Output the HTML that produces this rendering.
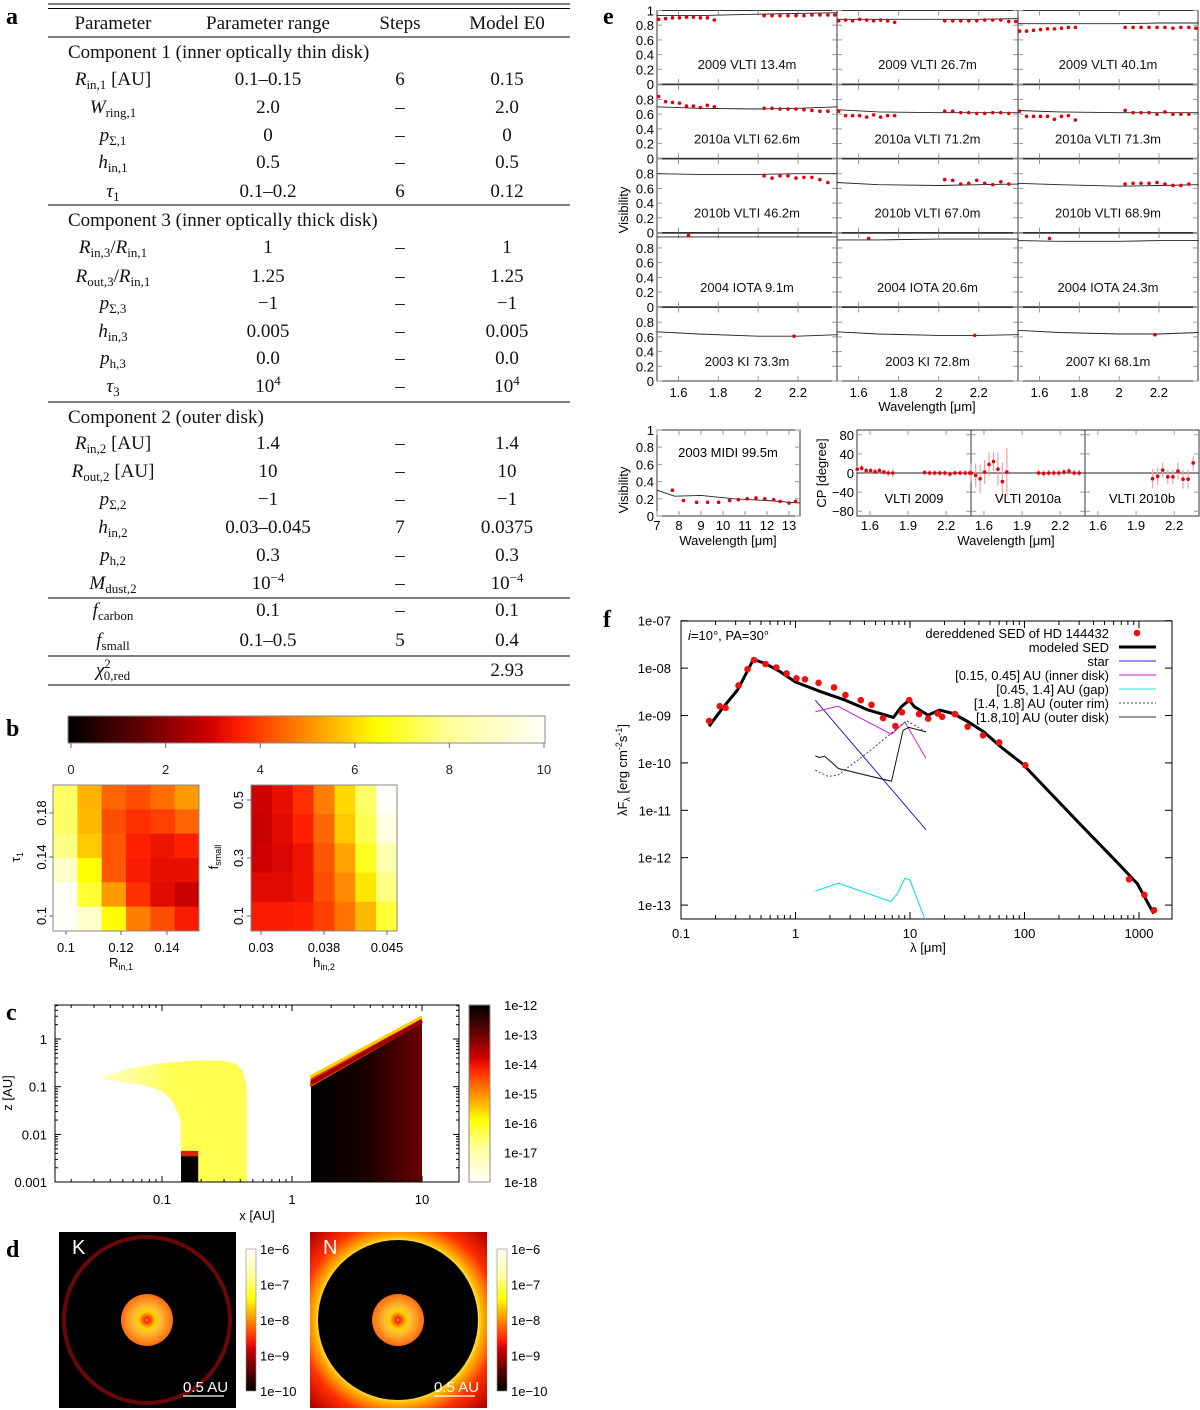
<!DOCTYPE html>
<html><head><meta charset="utf-8"><title>HD 144432 model figure</title>
<style>
html,body{margin:0;padding:0;background:#fff;}
svg{display:block;font-family:"Liberation Sans",sans-serif;}
.ser{font-family:"Liberation Serif",serif;}
</style></head>
<body>
<svg id="fig" width="1200" height="1410" viewBox="0 0 1200 1410" xmlns="http://www.w3.org/2000/svg">
<defs>
<linearGradient id="hotH" x1="0" y1="0" x2="1" y2="0">
<stop offset="0" stop-color="#000"/><stop offset="0.15" stop-color="#600000"/><stop offset="0.3" stop-color="#d00000"/><stop offset="0.36" stop-color="#ff2000"/><stop offset="0.5" stop-color="#ff8c00"/><stop offset="0.65" stop-color="#ffff00"/><stop offset="0.8" stop-color="#ffff99"/><stop offset="1" stop-color="#fffff8"/>
</linearGradient>
<linearGradient id="hotV" x1="0" y1="0" x2="0" y2="1">
<stop offset="0" stop-color="#000"/><stop offset="0.15" stop-color="#600000"/><stop offset="0.3" stop-color="#d00000"/><stop offset="0.36" stop-color="#ff2000"/><stop offset="0.5" stop-color="#ff8c00"/><stop offset="0.65" stop-color="#ffff00"/><stop offset="0.8" stop-color="#ffff99"/><stop offset="1" stop-color="#fffff8"/>
</linearGradient>
<linearGradient id="hotVr" x1="0" y1="1" x2="0" y2="0">
<stop offset="0" stop-color="#000"/><stop offset="0.15" stop-color="#600000"/><stop offset="0.3" stop-color="#d00000"/><stop offset="0.36" stop-color="#ff2000"/><stop offset="0.5" stop-color="#ff8c00"/><stop offset="0.65" stop-color="#ffff00"/><stop offset="0.8" stop-color="#ffff99"/><stop offset="1" stop-color="#fffff8"/>
</linearGradient>
<linearGradient id="innerFill" gradientUnits="userSpaceOnUse" x1="60" y1="0" x2="175" y2="0">
<stop offset="0" stop-color="#ffffff"/><stop offset="0.5" stop-color="#ffffb0"/><stop offset="1" stop-color="#ffff50"/>
</linearGradient>
<linearGradient id="outerFill" x1="0" y1="0" x2="1" y2="0">
<stop offset="0" stop-color="#000"/><stop offset="0.5" stop-color="#1a0000"/><stop offset="1" stop-color="#6a0000"/>
</linearGradient>
<radialGradient id="diskG">
<stop offset="0" stop-color="#ffffff"/><stop offset="0.06" stop-color="#ff2000"/><stop offset="0.16" stop-color="#ff5a00"/><stop offset="0.32" stop-color="#ffd000"/><stop offset="0.5" stop-color="#ffc030"/><stop offset="1" stop-color="#ff6a10"/>
</radialGradient>
<radialGradient id="nBg" cx="0.5" cy="0.5" r="0.7">
<stop offset="0.62" stop-color="#ffff60"/><stop offset="0.68" stop-color="#ffb000"/><stop offset="0.8" stop-color="#ff3000"/><stop offset="1" stop-color="#b00000"/>
</radialGradient>
</defs>
<rect x="0" y="0" width="1200" height="1410" fill="#fff"/>

<!-- panel labels -->
<g class="ser" font-weight="bold" font-size="24">
<text x="6" y="24">a</text>
<text x="6" y="736">b</text>
<text x="6" y="1020">c</text>
<text x="6" y="1257">d</text>
<text x="603" y="24">e</text>
<text x="603" y="627">f</text>
</g>

<!-- panel a table -->
<g id="table" class="ser" font-size="19" fill="#111">
<g stroke="#000" stroke-width="1">
<line x1="48" y1="4" x2="570" y2="4"/><line x1="48" y1="8.5" x2="570" y2="8.5"/>
<line x1="48" y1="37" x2="570" y2="37"/><line x1="48" y1="205" x2="570" y2="205"/>
<line x1="48" y1="402" x2="570" y2="402"/><line x1="48" y1="598" x2="570" y2="598"/>
<line x1="48" y1="656" x2="570" y2="656"/><line x1="48" y1="685" x2="570" y2="685"/>
</g>
<g text-anchor="middle">
<text x="113" y="29">Parameter</text><text x="268" y="29">Parameter range</text><text x="400" y="29">Steps</text><text x="507" y="29">Model E0</text>
</g>
<text x="68" y="58">Component 1 (inner optically thin disk)</text>
<text x="68" y="226">Component 3 (inner optically thick disk)</text>
<text x="68" y="423">Component 2 (outer disk)</text>
<g id="trows" text-anchor="middle"></g>
</g>

<g id="panelB"></g>
<g id="panelC"></g>
<g id="panelD"></g>
<g id="panelE"></g>
<g id="panelF"></g>
</svg>

<script>
// ---------- panel e data ----------
const visLabels = ["2009 VLTI 13.4m","2009 VLTI 26.7m","2009 VLTI 40.1m",
"2010a VLTI 62.6m","2010a VLTI 71.2m","2010a VLTI 71.3m",
"2010b VLTI 46.2m","2010b VLTI 67.0m","2010b VLTI 68.9m",
"2004 IOTA 9.1m","2004 IOTA 20.6m","2004 IOTA 24.3m",
"2003 KI 73.3m","2003 KI 72.8m","2007 KI 68.1m"];
const visModelWl = [1.49,1.7,2.0,2.2,2.4];
const visModel = [
[0.93,0.93,0.95,0.96,0.97],[0.88,0.88,0.88,0.88,0.89],[0.82,0.82,0.82,0.83,0.83],
[0.70,0.68,0.67,0.68,0.70],[0.66,0.63,0.62,0.62,0.62],[0.65,0.63,0.62,0.62,0.62],
[0.80,0.79,0.79,0.80,0.80],[0.68,0.65,0.64,0.65,0.66],[0.67,0.65,0.63,0.64,0.65],
[0.95,0.95,0.95,0.95,0.95],[0.91,0.91,0.92,0.92,0.92],[0.90,0.89,0.89,0.90,0.90],
[0.67,0.64,0.61,0.61,0.63],[0.67,0.64,0.62,0.62,0.63],[0.69,0.66,0.64,0.64,0.66]];
const wlLeft = [1.50,1.535,1.57,1.605,1.64,1.675,1.71,1.745,1.78];
const wlRight = [2.03,2.07,2.11,2.15,2.19,2.23,2.27,2.31,2.35,2.385];
const visLeft = [
[0.88,0.89,0.90,0.90,0.91,0.91,0.90,0.90,0.87],[0.86,0.87,0.86,0.88,0.87,0.86,0.87,0.86,0.84],[0.72,0.72,0.73,0.74,0.75,0.75,0.76,0.77,0.77],
[0.84,0.77,0.76,0.75,0.71,0.71,0.69,0.72,0.70],[0.64,0.58,0.58,0.58,0.56,0.59,0.56,0.58,0.58],[0.64,0.57,0.57,0.57,0.57,0.53,0.57,0.58,0.52],
[],[],[],[],[],[],[],[],[]];
const visRight = [
[0.93,0.93,0.93,0.93,0.93,0.93,0.94,0.94,0.94,0.94],[0.86,0.86,0.86,0.86,0.86,0.87,0.87,0.87,0.85,0.85],[0.77,0.77,0.77,0.77,0.77,0.77,0.76,0.77,0.77,0.76],
[0.68,0.68,0.67,0.67,0.67,0.66,0.65,0.64,0.64],[0.64,0.64,0.62,0.62,0.61,0.61,0.62,0.62,0.61],[0.65,0.62,0.62,0.62,0.60,0.63,0.60,0.60,0.60],
[0.77,0.74,0.77,0.77,0.74,0.75,0.75,0.72,0.68],[0.72,0.71,0.66,0.67,0.71,0.67,0.65,0.69,0.66],[0.66,0.67,0.67,0.67,0.68,0.66,0.64,0.64,0.66],
[],[],[],[],[],[]];
const visSingleWl = [null,null,null,null,null,null,null,null,null,1.65,1.65,1.65,2.18,2.18,2.18];
const visSingleV = [null,null,null,null,null,null,null,null,null,0.97,0.93,0.93,0.61,0.62,0.63];
const visYTicks = [0,0.2,0.4,0.6,0.8];
const visXTicks = [1.6,1.8,2.0,2.2];
const visXTickLabels = ["1.6","1.8","2","2.2"];
// MIDI
const midiModelWl = [7,7.8,9,10.5,12,13.5];
const midiModel = [0.30,0.23,0.24,0.20,0.18,0.15];
const midiWl = [7.7,8.2,8.8,9.3,9.8,10.3,10.7,11.1,11.5,11.9,12.3,12.6,13.0,13.3];
const midiV = [0.30,0.18,0.16,0.16,0.16,0.18,0.19,0.20,0.21,0.20,0.19,0.17,0.15,0.17];
const midiXTicks = [7,8,9,10,11,12,13];
// closure phases
const cpLabels = ["VLTI 2009","VLTI 2010a","VLTI 2010b"];
const cpLeft = [[8,10,5,5,3,5,2,0,0],[0,-5,-12,2,18,24,8,-18,2],[]];
const cpLeftErr = [[6,7,6,6,6,6,6,7,10],[20,25,30,25,25,20,35,40,50],[]];
const cpRight = [[1,0,0,0,0,-2,0,0,0,0],[0,-1,0,0,0,2,4,0,0],[-12,-7,6,-8,-8,4,-13,-13,21]];
const cpRightErr = [[6,6,6,6,6,6,6,6,6,6],[7,7,7,7,7,7,7,7,7],[20,18,15,15,15,18,20,20,15]];
const cpYTicks = [-80,-40,0,40,80];
const cpXTicks = [1.6,1.9,2.2];

// ---------- panel f data ----------
const sedWl = [0.176,0.218,0.245,0.318,0.381,0.434,0.547,0.679,0.837,1.02,1.21,1.59,2.17,2.73,3.72,4.61,5.82,7.45,8.5,9.85,12.0,14.4,17.5,19.1,24.7,31.9,43.4,60.1,101.6,819,1114,1352];
const sedFlux = [7.7e-10,1.57e-9,1.45e-9,4.3e-9,9.5e-9,1.48e-8,1.22e-8,1.03e-8,7.7e-9,6.1e-9,5.8e-9,4.9e-9,3.9e-9,2.7e-9,2.1e-9,1.68e-9,8.8e-10,6.0e-10,1.17e-9,2.1e-9,1.07e-9,8.6e-10,1.1e-9,9.4e-10,1.07e-9,5.8e-10,3.8e-10,2.7e-10,8.9e-11,3.5e-13,1.65e-13,7.8e-14];
const modelWl = [0.176,0.230,0.314,0.428,0.539,0.735,1.0,1.59,2.73,4.34,7.18,8.38,9.85,10.96,14.4,18.1,23.8,32.4,44.1,64.8,95.5,140.6,304,659,970,1343];
const modelFlux = [5.96e-10,1.41e-9,3.54e-9,1.52e-8,1.26e-8,8.4e-9,5.1e-9,3.3e-9,2.1e-9,1.3e-9,9.1e-10,1.52e-9,2.1e-9,1.52e-9,1.02e-9,1.3e-9,1.1e-9,7.3e-10,4.5e-10,2.0e-10,9.7e-11,3.66e-11,5.2e-12,7.5e-13,2.8e-13,6.6e-14];
const starWl = [1.49,13.8];
const starFlux = [2.1e-9,3.9e-12];
const innerWl = [1.49,2.34,6.9,9.03,13.8];
const innerFlux = [1.19e-9,1.57e-9,4.0e-10,7.3e-10,1.24e-10];
const gapWl = [1.49,2.37,6.8,7.74,9.03,9.98,13.8];
const gapFlux = [1.98e-13,2.9e-13,1.19e-13,1.74e-13,3.7e-13,3.4e-13,4.4e-14];
const rimWl = [1.49,1.93,2.34,4.34,8.7,9.4,13.8];
const rimFlux = [7e-11,5.2e-11,5.5e-11,1.7e-10,6.8e-10,7.7e-10,4.5e-10];
const outerWl = [1.49,1.61,1.79,2.0,2.37,6.9,8.7,9.77,13.8];
const outerFlux = [1.41e-10,1.3e-10,1.38e-10,1.1e-10,7.6e-11,4.1e-11,4.9e-10,5.6e-10,4.5e-10];
const sedYTicks = [-7,-8,-9,-10,-11,-12,-13];
const sedYTickLabels = ["1e-07","1e-08","1e-09","1e-10","1e-11","1e-12","1e-13"];
const sedXTicks = [0.1,1,10,100,1000];
const sedXTickLabels = ["0.1","1","10","100","1000"];

// ---------- panel b data ----------
const hm1Values = [
[7.5,5.5,4.5,4.2,4.6,5.2],
[7.5,5.6,4.2,3.8,4.0,4.5],
[7.8,5.8,4.3,3.6,3.4,3.6],
[9.0,6.5,4.3,3.5,3.3,3.3],
[10,7.0,5.2,3.8,3.2,2.9],
[10,9.0,6.5,4.8,4.2,3.5]];
const hm2Values = [
[3.0,3.3,3.8,4.8,6.0,7.5,10],
[2.9,3.2,3.6,4.5,5.8,7.3,9.5],
[3.0,3.1,3.4,4.3,5.3,6.8,8.5],
[3.2,3.2,3.4,4.2,5.0,6.2,7.8],
[3.5,3.5,3.6,4.0,4.7,5.6,7.0]];
const cbTicks = [0,2,4,6,8,10];

// ---------- table rows ----------
const NS='http://www.w3.org/2000/svg';
function E(tag,attrs,parent){const e=document.createElementNS(NS,tag);for(const k in attrs)e.setAttribute(k,attrs[k]);if(parent)parent.appendChild(e);return e;}
function T(parent,x,y,str,attrs){const t=E('text',Object.assign({x:x,y:y},attrs||{}),parent);t.textContent=str;return t;}

const trows=document.getElementById('trows');
const tableRows = [
[85,'<tspan font-style="italic">R</tspan><tspan font-size="13" dy="4">in,1</tspan><tspan dy="-4"> [AU]</tspan>','0.1–0.15','6','0.15'],
[113,'<tspan font-style="italic">W</tspan><tspan font-size="13" dy="4">ring,1</tspan>','2.0','–','2.0'],
[141,'<tspan font-style="italic">p</tspan><tspan font-size="13" dy="4">Σ,1</tspan>','0','–','0'],
[168,'<tspan font-style="italic">h</tspan><tspan font-size="13" dy="4">in,1</tspan>','0.5','–','0.5'],
[197,'<tspan font-style="italic">τ</tspan><tspan font-size="13" dy="4">1</tspan>','0.1–0.2','6','0.12'],
[253,'<tspan font-style="italic">R</tspan><tspan font-size="13" dy="4">in,3</tspan><tspan dy="-4">/</tspan><tspan font-style="italic">R</tspan><tspan font-size="13" dy="4">in,1</tspan>','1','–','1'],
[282,'<tspan font-style="italic">R</tspan><tspan font-size="13" dy="4">out,3</tspan><tspan dy="-4">/</tspan><tspan font-style="italic">R</tspan><tspan font-size="13" dy="4">in,1</tspan>','1.25','–','1.25'],
[309,'<tspan font-style="italic">p</tspan><tspan font-size="13" dy="4">Σ,3</tspan>','−1','–','−1'],
[337,'<tspan font-style="italic">h</tspan><tspan font-size="13" dy="4">in,3</tspan>','0.005','–','0.005'],
[364,'<tspan font-style="italic">p</tspan><tspan font-size="13" dy="4">h,3</tspan>','0.0','–','0.0'],
[392,'<tspan font-style="italic">τ</tspan><tspan font-size="13" dy="4">3</tspan>','10<tspan font-size="13" dy="-7">4</tspan>','–','10<tspan font-size="13" dy="-7">4</tspan>'],
[449,'<tspan font-style="italic">R</tspan><tspan font-size="13" dy="4">in,2</tspan><tspan dy="-4"> [AU]</tspan>','1.4','–','1.4'],
[477,'<tspan font-style="italic">R</tspan><tspan font-size="13" dy="4">out,2</tspan><tspan dy="-4"> [AU]</tspan>','10','–','10'],
[505,'<tspan font-style="italic">p</tspan><tspan font-size="13" dy="4">Σ,2</tspan>','−1','–','−1'],
[533,'<tspan font-style="italic">h</tspan><tspan font-size="13" dy="4">in,2</tspan>','0.03–0.045','7','0.0375'],
[561,'<tspan font-style="italic">p</tspan><tspan font-size="13" dy="4">h,2</tspan>','0.3','–','0.3'],
[589,'<tspan font-style="italic">M</tspan><tspan font-size="13" dy="4">dust,2</tspan>','10<tspan font-size="13" dy="-7">−4</tspan>','–','10<tspan font-size="13" dy="-7">−4</tspan>'],
[616,'<tspan font-style="italic">f</tspan><tspan font-size="13" dy="4">carbon</tspan>','0.1','–','0.1'],
[646,'<tspan font-style="italic">f</tspan><tspan font-size="13" dy="4">small</tspan>','0.1–0.5','5','0.4'],
[676,'<tspan font-style="italic">χ</tspan><tspan font-size="13" dy="-8">2</tspan><tspan font-size="13" dx="-7" dy="12">0,red</tspan>','','','2.93']];
const colX=[113,268,400,507];
tableRows.forEach((r,i)=>{
  const g=E('g',{},trows);
  
  
  for(let c=0;c<4;c++){const t=E('text',{x:colX[c],y:r[0]},g);t.innerHTML=r[c+1];}
});

// ---------- panel b ----------
const cmStops=[[0,[0,0,0]],[0.15,[96,0,0]],[0.3,[208,0,0]],[0.36,[255,32,0]],[0.5,[255,140,0]],[0.65,[255,255,0]],[0.8,[255,255,153]],[1,[255,255,248]]];
function hot(v){const t=Math.max(0,Math.min(1,v/10));for(let i=1;i<cmStops.length;i++){if(t<=cmStops[i][0]){const a=cmStops[i-1],b=cmStops[i];const f=(t-a[0])/(b[0]-a[0]);const c=a[1].map((x,k)=>Math.round(x+(b[1][k]-x)*f));return 'rgb('+c.join(',')+')';}}return 'rgb(255,255,248)';}
const pB=document.getElementById('panelB');
const cbx0=68,cbx1=545,cby0=716,cby1=743;
const cb=E('rect',{x:cbx0,y:cby0,width:cbx1-cbx0,height:cby1-cby0,fill:'url(#hotH)',stroke:'#888','stroke-width':1},pB);


const cbScale=v=>71+(544-71)*v/10;
cbTicks.forEach(v=>{
  E('line',{x1:cbScale(v),y1:cby1,x2:cbScale(v),y2:cby1+5,stroke:'#666'},pB);
  const t=T(pB,cbScale(v),774,String(v),{'text-anchor':'middle','font-size':13,fill:'#222'});
  
  
});
function heatmap(vals,x0,x1,y0,y1,name){
  const rows=vals.length,cols=vals[0].length,cw=(x1-x0)/cols,ch=(y1-y0)/rows;
  const g=E('g',{},pB);
  
  
  vals.forEach((row,r)=>row.forEach((v,c)=>{
    const cell=E('rect',{x:x0+c*cw,y:y0+r*ch,width:cw+0.5,height:ch+0.5,fill:hot(v)},g);
    
    
  }));
  E('rect',{x:x0,y:y0,width:x1-x0,height:y1-y0,fill:'none',stroke:'#888'},g);
}
heatmap(hm1Values,53,199,785,931,'heatmap-rin-tau');
heatmap(hm2Values,251,397,785,931,'heatmap-hin-fsmall');
[[66,'0.1'],[121,'0.12'],[167,'0.14']].forEach(a=>{E('line',{x1:a[0],y1:931,x2:a[0],y2:935,stroke:'#666'},pB);T(pB,a[0],952,a[1],{'text-anchor':'middle','font-size':13});});
[[261,'0.03'],[324,'0.038'],[387,'0.045']].forEach(a=>{E('line',{x1:a[0],y1:931,x2:a[0],y2:935,stroke:'#666'},pB);T(pB,a[0],952,a[1],{'text-anchor':'middle','font-size':13});});
[[813,'0.18'],[857,'0.14'],[916,'0.1']].forEach(a=>{E('line',{x1:49,y1:a[0],x2:53,y2:a[0],stroke:'#666'},pB);T(pB,41,a[0],a[1],{'text-anchor':'middle','font-size':13,transform:'rotate(-90 41 '+a[0]+')',dy:'5'});});
[[800,'0.5'],[858,'0.3'],[916,'0.1']].forEach(a=>{E('line',{x1:247,y1:a[0],x2:251,y2:a[0],stroke:'#666'},pB);T(pB,238,a[0],a[1],{'text-anchor':'middle','font-size':13,transform:'rotate(-90 238 '+a[0]+')',dy:'5'});});
const bx1=E('text',{x:121,y:967,'text-anchor':'middle','font-size':13},pB);bx1.innerHTML='R<tspan font-size="9" dy="3">in,1</tspan>';


const bx2=E('text',{x:324,y:967,'text-anchor':'middle','font-size':13},pB);bx2.innerHTML='h<tspan font-size="9" dy="3">in,2</tspan>';


const by1=E('text',{x:20,y:857,'text-anchor':'middle','font-size':13,transform:'rotate(-90 20 857)'},pB);by1.innerHTML='τ<tspan font-size="9" dy="3">1</tspan>';


const by2=E('text',{x:218,y:857,'text-anchor':'middle','font-size':13,transform:'rotate(-90 218 857)'},pB);by2.innerHTML='f<tspan font-size="9" dy="3">small</tspan>';



// ---------- panel c ----------
const pC=document.getElementById('panelC');
const cX=x=>292+130*Math.log10(x), cZ=z=>1039-47.7*Math.log10(z);
function poly(pts){return pts.map(p=>cX(p[0]).toFixed(1)+','+cZ(p[1]).toFixed(1)).join(' ');}
const innerPts=[[0.032,0.15],[0.06,0.25],[0.1,0.31],[0.2,0.36],[0.3,0.35],[0.37,0.3],[0.42,0.21],[0.44,0.13],[0.45,0.08],[0.45,0.001],[0.14,0.001],[0.14,0.02],[0.12,0.05],[0.1,0.08],[0.07,0.11],[0.045,0.13]];
const ip=E('polygon',{points:poly(innerPts),fill:'url(#innerFill)'},pC);


const blk=E('polygon',{points:poly([[0.14,0.001],[0.14,0.0035],[0.19,0.0035],[0.19,0.001]]),fill:'#000'},pC);


E('polygon',{points:poly([[0.14,0.0035],[0.14,0.0045],[0.19,0.0045],[0.19,0.0035]]),fill:'#e02000'},pC);
const od=E('polygon',{points:poly([[1.4,0.001],[1.4,0.1],[10,2.2],[10,0.001]]),fill:'url(#outerFill)'},pC);


E('polygon',{points:poly([[1.37,0.1],[1.4,0.16],[10,3.0],[10,2.2],[1.4,0.1]]),fill:'#e83000'},pC);
E('polyline',{points:poly([[1.38,0.16],[10,2.9]]),stroke:'#ffd000','stroke-width':3,fill:'none'},pC);
E('polyline',{points:poly([[1.4,0.12],[10,2.4]]),stroke:'#a00000','stroke-width':4,fill:'none'},pC);
const cFrame=E('rect',{x:55,y:1005,width:404,height:177,fill:'none',stroke:'#000'},pC);


for(let d=-2;d<=1;d++){for(let m=1;m<10;m++){const v=Math.pow(10,d)*m;const x=cX(v);if(x<55||x>459)continue;const L=m==1?6:3;E('line',{x1:x,y1:1182,x2:x,y2:1182-L,stroke:'#000'},pC);E('line',{x1:x,y1:1005,x2:x,y2:1005+L,stroke:'#000'},pC);}}
for(let d=-3;d<=0;d++){for(let m=1;m<10;m++){const v=Math.pow(10,d)*m;const y=cZ(v);if(y<1005||y>1182)continue;const L=m==1?6:3;E('line',{x1:55,y1:y,x2:55+L,y2:y,stroke:'#000'},pC);E('line',{x1:459,y1:y,x2:459-L,y2:y,stroke:'#000'},pC);}}
[[0.1,'0.1'],[1,'1'],[10,'10']].forEach(a=>T(pC,cX(a[0]),1204,a[1],{'text-anchor':'middle','font-size':13}));
[[1,'1'],[0.1,'0.1'],[0.01,'0.01'],[0.001,'0.001']].forEach(a=>T(pC,47,cZ(a[1]=='x'?0:a[0])+5,a[1],{'text-anchor':'end','font-size':13}));
const cxl=T(pC,257,1220,'x [AU]',{'text-anchor':'middle','font-size':13});


const czl=T(pC,12,1093,'z [AU]',{'text-anchor':'middle','font-size':13,transform:'rotate(-90 12 1093)'});


const ccb=E('rect',{x:469,y:1005,width:21,height:177,fill:'url(#hotV)',stroke:'#888'},pC);


['1e-12','1e-13','1e-14','1e-15','1e-16','1e-17','1e-18'].forEach((s,i)=>T(pC,504,1005+i*29.5+5,s,{'font-size':13}));

// ---------- panel d ----------
const pD=document.getElementById('panelD');
function imgPanel(x0,label,isN){
  const g=E('g',{},pD);
  
  
  const cx=x0+88,cy=1320;
  E('rect',{x:x0,y:1232,width:177,height:176,fill:isN?'url(#nBg)':'#000'},g);
  if(isN){E('circle',{cx:cx,cy:cy,r:80,fill:'#000'},g);}
  else{E('circle',{cx:cx,cy:cy,r:83,fill:'none',stroke:'#6a0808','stroke-width':4},g);}
  E('circle',{cx:cx,cy:cy,r:26,fill:'url(#diskG)'},g);
  T(g,x0+13,1254,label,{fill:'#fff','font-size':20});
  T(g,x0+124,1392,'0.5 AU',{fill:'#fff','font-size':15});
  E('line',{x1:x0+124,y1:1396,x2:x0+165,y2:1396,stroke:'#fff','stroke-width':1.2},g);
  const cbx=x0+187;
  const bar=E('rect',{x:cbx,y:1249,width:10,height:142,fill:'url(#hotVr)',stroke:'#888','stroke-width':0.6},pD);
  
  
  ['1e−6','1e−7','1e−8','1e−9','1e−10'].forEach((s,i)=>T(pD,cbx+14,1249+i*35.5+5,s,{'font-size':13}));
}
imgPanel(59,'K',false);
imgPanel(310,'N',true);

// ---------- panel e ----------
const pE=document.getElementById('panelE');
const colLeft=[657,837,1018], colW=[180,181,180];
const rowZero=i=>84+i*74.25, rowScale=73.5;
for(let p=0;p<15;p++){
  const r=Math.floor(p/3),c=p%3;
  const x0=colLeft[c],w=colW[c],y0=rowZero(r);
  const xs=wl=>x0+(wl-1.492)/(2.396-1.492)*w, ys=v=>y0-v*rowScale;
  const g=E('g',{},pE);
  
  
  E('rect',{x:x0,y:y0-rowScale,width:w,height:rowScale,fill:'none',stroke:'#333'},g);
  visYTicks.concat([1]).forEach(v=>{E('line',{x1:x0,y1:ys(v),x2:x0+5,y2:ys(v),stroke:'#999'},g);E('line',{x1:x0+w,y1:ys(v),x2:x0+w-5,y2:ys(v),stroke:'#999'},g);});
  visXTicks.forEach(v=>{E('line',{x1:xs(v),y1:y0,x2:xs(v),y2:y0-5,stroke:'#999'},g);E('line',{x1:xs(v),y1:y0-rowScale,x2:xs(v),y2:y0-rowScale+5,stroke:'#999'},g);});
  const ml=E('polyline',{points:visModelWl.map((wl,k)=>xs(wl).toFixed(1)+','+ys(visModel[p][k]).toFixed(1)).join(' '),fill:'none',stroke:'#222','stroke-width':0.9},g);
  
  
  const pts=[];
  visLeft[p].forEach((v,k)=>pts.push([wlLeft[k],v]));
  visRight[p].forEach((v,k)=>pts.push([wlRight[k],v]));
  if(visSingleWl[p]!==null)pts.push([visSingleWl[p],visSingleV[p]]);
  pts.forEach(pt=>{
    E('line',{x1:xs(pt[0]),y1:ys(pt[1]+0.02),x2:xs(pt[0]),y2:ys(pt[1]-0.02),stroke:'#f06060','stroke-width':1},g);
    const d=E('circle',{cx:xs(pt[0]),cy:ys(pt[1]),r:1.8,fill:'#e00010'},g);
    
    
  });
  const lt=T(g,x0+w/2,y0-rowScale*0.27+5,visLabels[p],{'text-anchor':'middle','font-size':13,fill:'#111'});
  
  
  if(c==0){
    const labs=r==0?visYTicks.concat([1]):visYTicks;
    labs.forEach(v=>T(pE,x0-3,ys(v)+5,String(v),{'text-anchor':'end','font-size':13}));
  }
  if(r==4){visXTicks.forEach((v,k)=>T(pE,xs(v),397,visXTickLabels[k],{'text-anchor':'middle','font-size':13}));}
}
const evl=T(pE,628,210,'Visibility',{'text-anchor':'middle','font-size':13,transform:'rotate(-90 628 210)'});


const ewl=T(pE,927,411,'Wavelength [μm]',{'text-anchor':'middle','font-size':13});


// MIDI
{
  const x0=657,x1=800,y0=516,y1=430;
  const xs=wl=>657+(wl-7)*22, ys=v=>y0-(y0-y1)*v;
  const g=E('g',{},pE);
  
  
  E('rect',{x:x0,y:y1,width:x1-x0,height:y0-y1,fill:'none',stroke:'#333'},g);
  [0,0.2,0.4,0.6,0.8,1].forEach(v=>{E('line',{x1:x0,y1:ys(v),x2:x0+5,y2:ys(v),stroke:'#999'},g);E('line',{x1:x1,y1:ys(v),x2:x1-5,y2:ys(v),stroke:'#999'},g);T(g,x0-3,ys(v)+5,String(v),{'text-anchor':'end','font-size':13});});
  midiXTicks.forEach(v=>{E('line',{x1:xs(v),y1:y0,x2:xs(v),y2:y0-5,stroke:'#999'},g);E('line',{x1:xs(v),y1:y1,x2:xs(v),y2:y1+5,stroke:'#999'},g);T(g,xs(v),530,String(v),{'text-anchor':'middle','font-size':13});});
  const ml=E('polyline',{points:midiModelWl.map((w,k)=>xs(w).toFixed(1)+','+ys(midiModel[k]).toFixed(1)).join(' '),fill:'none',stroke:'#222','stroke-width':0.9},g);
  
  
  midiWl.forEach((w,k)=>{E('line',{x1:xs(w),y1:ys(midiV[k]+0.015),x2:xs(w),y2:ys(midiV[k]-0.015),stroke:'#f06060'},g);const d=E('circle',{cx:xs(w),cy:ys(midiV[k]),r:1.8,fill:'#e00010'},g);
    
    });
  T(g,728,457,'2003 MIDI 99.5m',{'text-anchor':'middle','font-size':13});
  T(g,628,490,'Visibility',{'text-anchor':'middle','font-size':13,transform:'rotate(-90 628 490)'});
  T(g,728,545,'Wavelength [μm]',{'text-anchor':'middle','font-size':13});
}
// CP
{
  const cl=[857,971,1085],cw=114,yT=430,yB=516;
  const ys=v=>473-v*0.4778;
  cpLabels.forEach((lab,c)=>{
    const x0=cl[c];
    const xs=wl=>x0+(wl-1.498)*127;
    const g=E('g',{},pE);
    
    
    E('rect',{x:x0,y:yT,width:cw,height:yB-yT,fill:'none',stroke:'#333'},g);
    cpYTicks.forEach(v=>{E('line',{x1:x0,y1:ys(v),x2:x0+5,y2:ys(v),stroke:'#999'},g);E('line',{x1:x0+cw,y1:ys(v),x2:x0+cw-5,y2:ys(v),stroke:'#999'},g);if(c==0)T(g,x0-3,ys(v)+5,String(v).replace('-','−'),{'text-anchor':'end','font-size':13});});
    cpXTicks.forEach(v=>{E('line',{x1:xs(v),y1:yB,x2:xs(v),y2:yB-5,stroke:'#999'},g);E('line',{x1:xs(v),y1:yT,x2:xs(v),y2:yT+5,stroke:'#999'},g);T(g,xs(v),530,v.toFixed(1),{'text-anchor':'middle','font-size':13});});
    E('line',{x1:x0,y1:ys(0),x2:x0+cw,y2:ys(0),stroke:'#222','stroke-width':0.9},g);
    const pts=[];
    cpLeft[c].forEach((v,k)=>pts.push([wlLeft[k],v,cpLeftErr[c][k]]));
    cpRight[c].forEach((v,k)=>pts.push([wlRight[k],v,cpRightErr[c][k]]));
    pts.forEach(pt=>{E('line',{x1:xs(pt[0]),y1:ys(pt[1]+pt[2]),x2:xs(pt[0]),y2:ys(pt[1]-pt[2]),stroke:'#f4a0a0','stroke-width':1.2},g);const d=E('circle',{cx:xs(pt[0]),cy:ys(pt[1]),r:1.8,fill:'#e00010'},g);
      
      });
    T(g,x0+cw/2,503,lab,{'text-anchor':'middle','font-size':13});
  });
  T(pE,826,473,'CP [degree]',{'text-anchor':'middle','font-size':13,transform:'rotate(-90 826 473)'});
  T(pE,1006,545,'Wavelength [μm]',{'text-anchor':'middle','font-size':13});
}

// ---------- panel f ----------
const pF=document.getElementById('panelF');
const fx0=681,fx1=1172,fy0=621,fy1=919;
const fX=w=>681+114.5*(Math.log10(w)+1), fY=f=>620.7-47.4*(Math.log10(f)+7);
E('rect',{x:fx0,y:fy0,width:fx1-fx0,height:fy1-fy0,fill:'none',stroke:'#000'},pF);
for(let d=-1;d<=3;d++){for(let m=1;m<10;m++){const x=fX(Math.pow(10,d)*m);if(x>fx1)continue;const L=m==1?7:4;E('line',{x1:x,y1:fy1,x2:x,y2:fy1-L,stroke:'#000'},pF);E('line',{x1:x,y1:fy0,x2:x,y2:fy0+L,stroke:'#000'},pF);}}
sedYTicks.forEach((d,k)=>{const y=fY(Math.pow(10,d));E('line',{x1:fx0,y1:y,x2:fx0+7,y2:y,stroke:'#000'},pF);E('line',{x1:fx1,y1:y,x2:fx1-7,y2:y,stroke:'#000'},pF);T(pF,671,y+5,sedYTickLabels[k],{'text-anchor':'end','font-size':13});});
sedXTicks.forEach((v,k)=>T(pF,fX(v),938,sedXTickLabels[k],{'text-anchor':'middle','font-size':13}));
const fxl=T(pF,928,952,'λ [μm]',{'text-anchor':'middle','font-size':13});


const fyl=E('text',{x:627,y:770,'text-anchor':'middle','font-size':13,transform:'rotate(-90 627 770)'},pF);
fyl.innerHTML='λF<tspan font-size="9" dy="3">λ</tspan><tspan dy="-3"> [erg cm</tspan><tspan font-size="9" dy="-5">-2</tspan><tspan dy="5">s</tspan><tspan font-size="9" dy="-5">-1</tspan><tspan dy="5">]</tspan>';


const fin=E('text',{x:688,y:640,'font-size':13},pF);fin.innerHTML='<tspan font-style="italic">i</tspan>=10°, PA=30°';


function sline(wl,fl,attrs,name){
  const pl=E('polyline',Object.assign({points:wl.map((w,k)=>fX(w).toFixed(1)+','+fY(fl[k]).toFixed(1)).join(' '),fill:'none'},attrs),pF);
  
  
}
E('clipPath',{id:'fclip'},pF).appendChild(E('rect',{x:fx0,y:fy0,width:fx1-fx0,height:fy1-fy0}));
sline(starWl,starFlux,{stroke:'#2020c8','stroke-width':1},'star-line');
sline(innerWl,innerFlux,{stroke:'#d020d0','stroke-width':1},'inner-disk-line');
sline(gapWl,gapFlux,{stroke:'#20e0e0','stroke-width':1.2,'clip-path':'url(#fclip)'},'gap-line');
sline(rimWl,rimFlux,{stroke:'#444','stroke-width':1,'stroke-dasharray':'2,2'},'outer-rim-line');
sline(outerWl,outerFlux,{stroke:'#111','stroke-width':1},'outer-disk-line');
sline(modelWl,modelFlux,{stroke:'#000','stroke-width':3,'stroke-linejoin':'round'},'modeled-sed-line');
sedWl.forEach((w,k)=>{const d=E('circle',{cx:fX(w),cy:fY(sedFlux[k]),r:3.3,fill:'#ee1111'},pF);
  
  });
const legend=[['dereddened SED of HD 144432','dot'],['modeled SED',{stroke:'#000','stroke-width':3}],['star',{stroke:'#2020c8'}],['[0.15, 0.45] AU (inner disk)',{stroke:'#d020d0'}],['[0.45, 1.4] AU (gap)',{stroke:'#20e0e0'}],['[1.4, 1.8] AU (outer rim)',{stroke:'#444','stroke-dasharray':'2,2'}],['[1.8,10] AU (outer disk)',{stroke:'#333'}]];
legend.forEach((l,i)=>{
  const y=633+i*14;
  const g=E('g',{},pF);
  
  
  T(g,1109,y+5,l[0],{'text-anchor':'end','font-size':13});
  if(l[1]==='dot')E('circle',{cx:1137,cy:y,r:3.3,fill:'#ee1111'},g);
  else E('line',Object.assign({x1:1119,y1:y,x2:1156,y2:y},l[1]),g);
});
</script>
</body></html>
